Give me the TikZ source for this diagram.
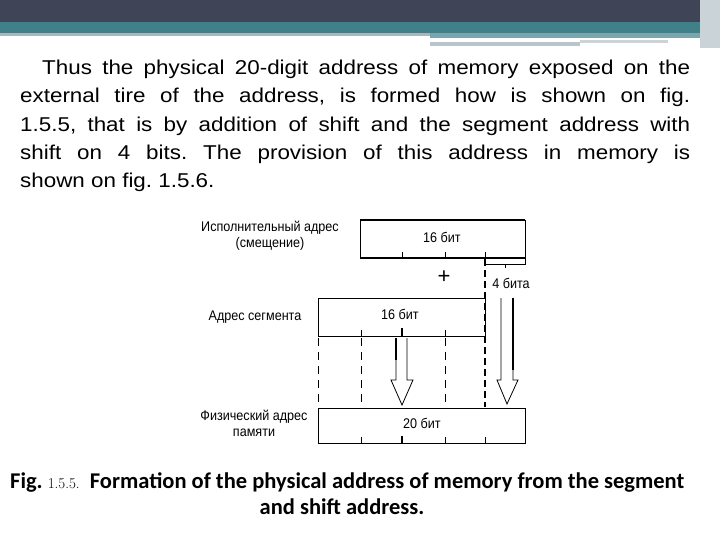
\documentclass[tikz,border=0pt]{standalone}
\usepackage{fontspec}
\setmainfont{Liberation Sans}
\newfontfamily\carlitofam{Carlito}
\newfontfamily\lmfam{Latin Modern Roman}
\newfontfamily\narrowfam[FakeStretch=0.9]{Liberation Sans}
\newfontfamily\widefam[FakeStretch=1.12]{Liberation Sans}
\definecolor{dark}{HTML}{3F4556}
\definecolor{teal}{HTML}{3F8089}
\definecolor{lgray}{HTML}{A6B8BE}
\frenchspacing
\begin{document}
\begin{tikzpicture}[x=1pt,y=-1pt,
 lab/.style={font=\narrowfam\fontsize{14}{16}\selectfont,align=center,inner sep=0},
 hol/.style={draw,fill=white,line width=0.8pt}]
\useasboundingbox (0,0) rectangle (720,540);
\fill[white] (0,0) rectangle (720,540);
% header
\fill[dark] (0,0) rectangle (720,22);
\fill[teal] (0,22) rectangle (720,33);
\fill[lgray] (0,33) rectangle (430,36);
\fill[teal!70] (430,33) rectangle (705,38);
\fill[lgray!80] (430,42) rectangle (580,46);
\fill[lgray!60] (580,40) rectangle (668,43);
\fill[lgray!60] (700,0) rectangle (720,48);
% paragraph
\node[anchor=north west,inner sep=0] (para) at (20,60)
 {\parbox[t]{670pt}{\widefam\fontsize{20}{28.3}\selectfont\hspace*{22pt}Thus the physical 20-digit address of memory exposed on the\linebreak external tire of the address, is formed how is shown on fig.\linebreak 1.5.5, that is by addition of shift and the segment address with\linebreak shift on 4 bits. The provision of this address in memory is\linebreak shown on fig. 1.5.6.}};
% top box
\draw[line width=0.8pt] (360,220) rectangle (525,258);
\draw[line width=2pt] (360,220) -- (525,220) (360,258) -- (525,258);
\foreach \x in {402,445,485} \draw[line width=0.8pt] (\x,258) -- (\x,252);
\node[lab] (t1) at (442,237) {16 бит};
\node[lab] (l1) at (270,236) {Исполнительный адрес\\(смещение)};
% brace
\draw[line width=0.8pt] (485,258) -- (485,264) -- (525,264) -- (525,258);
\draw[line width=0.8pt] (505,264) -- (505,268);
\node[lab] (fb) at (511,283) {4 бита};
\node[font=\fontsize{22}{22}\selectfont,inner sep=0] (plus) at (444,277) {+};
% segment box
\draw[line width=0.8pt] (318,298) rectangle (485,336);
\foreach \x in {361,445} \draw[line width=0.8pt] (\x,336) -- (\x,330);
\draw[line width=1.6pt] (402,336) -- (402,328);
\node[lab] (t2) at (400,314) {16 бит};
\node[lab] (l2) at (255,317) {Адрес сегмента};
% dashed lines
\foreach \x in {318,361,445} \draw[line width=0.8pt,dash pattern=on 8pt off 6pt] (\x,338) -- (\x,407);
\draw[line width=1.8pt,dash pattern=on 7pt off 4pt] (485,259) -- (485,407);
% bottom box
\draw[line width=0.8pt] (318,408) rectangle (525,443);
\foreach \x in {361,445,485} \draw[line width=0.8pt] (\x,443) -- (\x,437);
\draw[line width=1.6pt] (402,443) -- (402,436);
\node[lab] (t3) at (422,423) {20 бит};
\node[lab] (l3) at (254,423) {Физический адрес\\памяти};
% hollow arrows
\draw[hol] (396,338) -- (396,380) -- (391,380) -- (402,405) -- (413,380) -- (407,380) -- (407,338);
\draw[line width=1.6pt] (396,338) -- (396,360);
\draw[hol] (501,298) -- (501,380) -- (497,380) -- (507,404) -- (518,380) -- (513,380) -- (513,298);
\draw[line width=1.6pt] (513,298) -- (513,370);
% caption
\node[anchor=base west,inner sep=0,font=\carlitofam\bfseries\fontsize{22.5}{22}\selectfont] (cap) at (10,488)
 {Fig. {\lmfam\mdseries\fontsize{15}{15}\selectfont 1.5.5.} \ Formation of the physical address of memory from the segment};
\node[anchor=base,inner sep=0,font=\carlitofam\bfseries\fontsize{22.5}{22}\selectfont] (cap2) at (342,514) {and shift address.};
\end{tikzpicture}
\end{document}
